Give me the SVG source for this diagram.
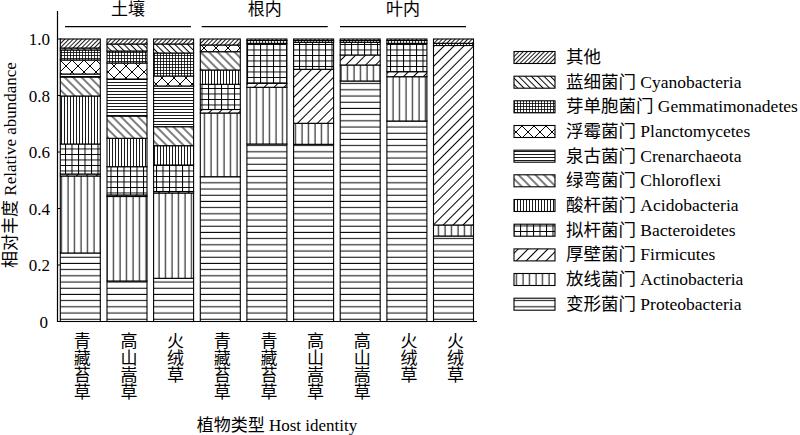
<svg xmlns="http://www.w3.org/2000/svg" width="800" height="435" viewBox="0 0 800 435">
<style>
text{font-family:"Liberation Serif","Noto Sans CJK SC",serif;font-size:17px;fill:#000}
.lt{font-size:17.5px}
.seg{stroke:#000;stroke-width:1.1}
.ax{stroke:#000;stroke-width:1.2;fill:none}
.vt{writing-mode:vertical-rl;text-orientation:upright}
.pl{stroke:#000;fill:none}
</style>
<defs>
<pattern id="pP" width="8" height="6.2" patternUnits="userSpaceOnUse"><rect width="8" height="6.2" fill="#fff"/><line class="pl" x1="0" y1="3" x2="8" y2="3" stroke-width="1"/></pattern>
<pattern id="pA" width="6.5" height="8" patternUnits="userSpaceOnUse"><rect width="6.5" height="8" fill="#fff"/><line class="pl" x1="3" y1="0" x2="3" y2="8" stroke-width="1"/></pattern>
<pattern id="pF" width="7" height="7" patternUnits="userSpaceOnUse" patternTransform="rotate(45)"><rect width="7" height="7" fill="#fff"/><line class="pl" x1="3.5" y1="0" x2="3.5" y2="7" stroke-width="1"/></pattern>
<pattern id="pB" width="6.5" height="5.5" patternUnits="userSpaceOnUse"><rect width="6.5" height="5.5" fill="#fff"/><path class="pl" d="M0,0.5H6.5M0.5,0V5.5" stroke-width="1"/></pattern>
<pattern id="pAc" width="3" height="8" patternUnits="userSpaceOnUse"><rect width="3" height="8" fill="#fff"/><line class="pl" x1="1.5" y1="0" x2="1.5" y2="8" stroke-width="0.9"/></pattern>
<pattern id="pC" width="6" height="6" patternUnits="userSpaceOnUse" patternTransform="rotate(-45)"><rect width="6" height="6" fill="#fff"/><line class="pl" x1="3" y1="0" x2="3" y2="6" stroke-width="1"/></pattern>
<pattern id="pCr" width="8" height="3" patternUnits="userSpaceOnUse"><rect width="8" height="3" fill="#fff"/><line class="pl" x1="0" y1="1.5" x2="8" y2="1.5" stroke-width="0.9"/></pattern>
<pattern id="pPl" width="12" height="12" patternUnits="userSpaceOnUse"><rect width="12" height="12" fill="#fff"/><path class="pl" d="M0,0L12,12M12,0L0,12" stroke-width="1"/></pattern>
<pattern id="pG" width="3" height="3" patternUnits="userSpaceOnUse"><rect width="3" height="3" fill="#fff"/><path class="pl" d="M0,1.5H3M1.5,0V3" stroke-width="0.8"/></pattern>
<pattern id="pCy" width="4.5" height="4.5" patternUnits="userSpaceOnUse" patternTransform="rotate(-45)"><rect width="4.5" height="4.5" fill="#fff"/><line class="pl" x1="2.25" y1="0" x2="2.25" y2="4.5" stroke-width="1"/></pattern>
<pattern id="pO" width="3" height="3" patternUnits="userSpaceOnUse" patternTransform="rotate(45)"><rect width="3" height="3" fill="#fff"/><line class="pl" x1="1.5" y1="0" x2="1.5" y2="3" stroke-width="0.9"/></pattern>
</defs>

<g id="axes">
<path class="ax" d="M57.5,11V321.5H477"/>
<path class="ax" d="M57.5,39H61.5M57.5,95.5H61.5M57.5,152H61.5M57.5,208.5H61.5M57.5,265H61.5"/>
<g text-anchor="end">
<text x="50" y="45">1.0</text>
<text x="50" y="101.5">0.8</text>
<text x="50" y="158">0.6</text>
<text x="50" y="214.5">0.4</text>
<text x="50" y="271">0.2</text>
<text x="48" y="327.5">0</text>
</g>
<text transform="translate(16,165) rotate(-90)" text-anchor="middle">相对丰度 Relative abundance</text>
<text x="277" y="431" text-anchor="middle">植物类型 Host identity</text>
</g>

<g id="groups">
<text x="128" y="15" text-anchor="middle">土壤</text>
<text x="264.7" y="15" text-anchor="middle">根内</text>
<text x="403" y="15" text-anchor="middle">叶内</text>
<path class="ax" d="M65,26.7H191M201.7,26.7H327.7M340,26.7H466" stroke-width="1"/>
</g>

<g id="bar1">
<rect class="seg" x="60.3" y="253" width="40" height="68.5" fill="url(#pP)"/>
<rect class="seg" x="60.3" y="176" width="40" height="77" fill="url(#pA)"/>
<rect class="seg" x="60.3" y="174" width="40" height="2" fill="url(#pF)"/>
<rect class="seg" x="60.3" y="144" width="40" height="30" fill="url(#pB)"/>
<rect class="seg" x="60.3" y="96" width="40" height="48" fill="url(#pAc)"/>
<rect class="seg" x="60.3" y="77" width="40" height="19" fill="url(#pC)"/>
<rect class="seg" x="60.3" y="74" width="40" height="3" fill="url(#pCr)"/>
<rect class="seg" x="60.3" y="60" width="40" height="14" fill="url(#pPl)"/>
<rect class="seg" x="60.3" y="50" width="40" height="10" fill="url(#pG)"/>
<rect class="seg" x="60.3" y="48" width="40" height="2" fill="url(#pCy)"/>
<rect class="seg" x="60.3" y="39" width="40" height="9" fill="url(#pO)"/>
</g>
<g id="bar2">
<rect class="seg" x="107" y="281" width="40" height="40.5" fill="url(#pP)"/>
<rect class="seg" x="107" y="196.5" width="40" height="84.5" fill="url(#pA)"/>
<rect class="seg" x="107" y="195" width="40" height="1.5" fill="url(#pF)"/>
<rect class="seg" x="107" y="166.7" width="40" height="28.3" fill="url(#pB)"/>
<rect class="seg" x="107" y="138.3" width="40" height="28.4" fill="url(#pAc)"/>
<rect class="seg" x="107" y="116" width="40" height="22.3" fill="url(#pC)"/>
<rect class="seg" x="107" y="79" width="40" height="37" fill="url(#pCr)"/>
<rect class="seg" x="107" y="63" width="40" height="16" fill="url(#pPl)"/>
<rect class="seg" x="107" y="51" width="40" height="12" fill="url(#pG)"/>
<rect class="seg" x="107" y="44" width="40" height="7" fill="url(#pCy)"/>
<rect class="seg" x="107" y="39" width="40" height="5" fill="url(#pO)"/>
</g>
<g id="bar3">
<rect class="seg" x="153.6" y="278.3" width="40" height="43.2" fill="url(#pP)"/>
<rect class="seg" x="153.6" y="193" width="40" height="85.3" fill="url(#pA)"/>
<rect class="seg" x="153.6" y="191.5" width="40" height="1.5" fill="url(#pF)"/>
<rect class="seg" x="153.6" y="165" width="40" height="26.5" fill="url(#pB)"/>
<rect class="seg" x="153.6" y="145.7" width="40" height="19.3" fill="url(#pAc)"/>
<rect class="seg" x="153.6" y="126.7" width="40" height="19" fill="url(#pC)"/>
<rect class="seg" x="153.6" y="86" width="40" height="40.7" fill="url(#pCr)"/>
<rect class="seg" x="153.6" y="76" width="40" height="10" fill="url(#pPl)"/>
<rect class="seg" x="153.6" y="53" width="40" height="23" fill="url(#pG)"/>
<rect class="seg" x="153.6" y="44" width="40" height="9" fill="url(#pCy)"/>
<rect class="seg" x="153.6" y="39" width="40" height="5" fill="url(#pO)"/>
</g>
<g id="bar4">
<rect class="seg" x="200.3" y="176.7" width="40" height="144.8" fill="url(#pP)"/>
<rect class="seg" x="200.3" y="113" width="40" height="63.7" fill="url(#pA)"/>
<rect class="seg" x="200.3" y="109.5" width="40" height="3.5" fill="url(#pF)"/>
<rect class="seg" x="200.3" y="84.3" width="40" height="25.2" fill="url(#pB)"/>
<rect class="seg" x="200.3" y="70" width="40" height="14.3" fill="url(#pAc)"/>
<rect class="seg" x="200.3" y="51.7" width="40" height="18.3" fill="url(#pC)"/>
<rect class="seg" x="200.3" y="45" width="40" height="6.7" fill="url(#pPl)"/>
<rect class="seg" x="200.3" y="39" width="40" height="6" fill="url(#pO)"/>
</g>
<g id="bar5">
<rect class="seg" x="246.9" y="144" width="40" height="177.5" fill="url(#pP)"/>
<rect class="seg" x="246.9" y="87.3" width="40" height="56.7" fill="url(#pA)"/>
<rect class="seg" x="246.9" y="83.3" width="40" height="4" fill="url(#pF)"/>
<rect class="seg" x="246.9" y="43.3" width="40" height="40" fill="url(#pB)"/>
<rect class="seg" x="246.9" y="40.5" width="40" height="2.8" fill="url(#pG)"/>
<rect class="seg" x="246.9" y="39" width="40" height="1.5" fill="url(#pO)"/>
</g>
<g id="bar6">
<rect class="seg" x="293.6" y="144.3" width="40" height="177.2" fill="url(#pP)"/>
<rect class="seg" x="293.6" y="123.3" width="40" height="21" fill="url(#pA)"/>
<rect class="seg" x="293.6" y="69.3" width="40" height="54" fill="url(#pF)"/>
<rect class="seg" x="293.6" y="42.3" width="40" height="27" fill="url(#pB)"/>
<rect class="seg" x="293.6" y="40.5" width="40" height="1.8" fill="url(#pG)"/>
<rect class="seg" x="293.6" y="39" width="40" height="1.5" fill="url(#pO)"/>
</g>
<g id="bar7">
<rect class="seg" x="340.2" y="81" width="40" height="240.5" fill="url(#pP)"/>
<rect class="seg" x="340.2" y="65" width="40" height="16" fill="url(#pA)"/>
<rect class="seg" x="340.2" y="55" width="40" height="10" fill="url(#pF)"/>
<rect class="seg" x="340.2" y="42.3" width="40" height="12.7" fill="url(#pB)"/>
<rect class="seg" x="340.2" y="40.5" width="40" height="1.8" fill="url(#pG)"/>
<rect class="seg" x="340.2" y="39" width="40" height="1.5" fill="url(#pO)"/>
</g>
<g id="bar8">
<rect class="seg" x="386.9" y="121" width="40" height="200.5" fill="url(#pP)"/>
<rect class="seg" x="386.9" y="76.7" width="40" height="44.3" fill="url(#pA)"/>
<rect class="seg" x="386.9" y="71.7" width="40" height="5" fill="url(#pF)"/>
<rect class="seg" x="386.9" y="43.3" width="40" height="28.4" fill="url(#pB)"/>
<rect class="seg" x="386.9" y="40.5" width="40" height="2.8" fill="url(#pG)"/>
<rect class="seg" x="386.9" y="39" width="40" height="1.5" fill="url(#pO)"/>
</g>
<g id="bar9">
<rect class="seg" x="433.5" y="236" width="40" height="85.5" fill="url(#pP)"/>
<rect class="seg" x="433.5" y="225" width="40" height="11" fill="url(#pA)"/>
<rect class="seg" x="433.5" y="45.5" width="40" height="179.5" fill="url(#pF)"/>
<rect class="seg" x="433.5" y="43.3" width="40" height="2.2" fill="url(#pG)"/>
<rect class="seg" x="433.5" y="39" width="40" height="4.3" fill="url(#pO)"/>
</g>

<g id="xlabels">
<text class="vt" x="80.3" y="332">青藏苔草</text>
<text class="vt" x="127" y="332">高山嵩草</text>
<text class="vt" x="173.6" y="332">火绒草</text>
<text class="vt" x="220.3" y="332">青藏苔草</text>
<text class="vt" x="266.9" y="332">青藏苔草</text>
<text class="vt" x="313.6" y="332">高山嵩草</text>
<text class="vt" x="360.2" y="332">高山嵩草</text>
<text class="vt" x="406.9" y="332">火绒草</text>
<text class="vt" x="453.5" y="332">火绒草</text>
</g>

<g id="legend">
<g id="lg-other"><rect class="seg" x="514" y="51.5" width="41" height="12" fill="url(#pO)"/><text class="lt" x="566" y="63">其他</text></g>
<g id="lg-cyano"><rect class="seg" x="514" y="76.2" width="41" height="12" fill="url(#pCy)"/><text class="lt" x="566" y="87.7">蓝细菌门 Cyanobacteria</text></g>
<g id="lg-gemmat"><rect class="seg" x="514" y="100.8" width="41" height="12" fill="url(#pG)"/><text class="lt" x="566" y="112.3">芽单胞菌门 Gemmatimonadetes</text></g>
<g id="lg-plancto"><rect class="seg" x="514" y="125.5" width="41" height="12" fill="url(#pPl)"/><text class="lt" x="566" y="137">浮霉菌门 Planctomycetes</text></g>
<g id="lg-cren"><rect class="seg" x="514" y="150.2" width="41" height="12" fill="url(#pCr)"/><text class="lt" x="566" y="161.7">泉古菌门 Crenarchaeota</text></g>
<g id="lg-chloro"><rect class="seg" x="514" y="174.8" width="41" height="12" fill="url(#pC)"/><text class="lt" x="566" y="186.3">绿弯菌门 Chloroflexi</text></g>
<g id="lg-acido"><rect class="seg" x="514" y="199.5" width="41" height="12" fill="url(#pAc)"/><text class="lt" x="566" y="211">酸杆菌门 Acidobacteria</text></g>
<g id="lg-bactero"><rect class="seg" x="514" y="224.2" width="41" height="12" fill="url(#pB)"/><text class="lt" x="566" y="235.7">拟杆菌门 Bacteroidetes</text></g>
<g id="lg-firm"><rect class="seg" x="514" y="248.9" width="41" height="12" fill="url(#pF)"/><text class="lt" x="566" y="260.4">厚壁菌门 Firmicutes</text></g>
<g id="lg-actino"><rect class="seg" x="514" y="273.5" width="41" height="12" fill="url(#pA)"/><text class="lt" x="566" y="285">放线菌门 Actinobacteria</text></g>
<g id="lg-proteo"><rect class="seg" x="514" y="298.2" width="41" height="12" fill="url(#pP)"/><text class="lt" x="566" y="309.7">变形菌门 Proteobacteria</text></g>
</g>

<g id="connectors"></g>
</svg>
